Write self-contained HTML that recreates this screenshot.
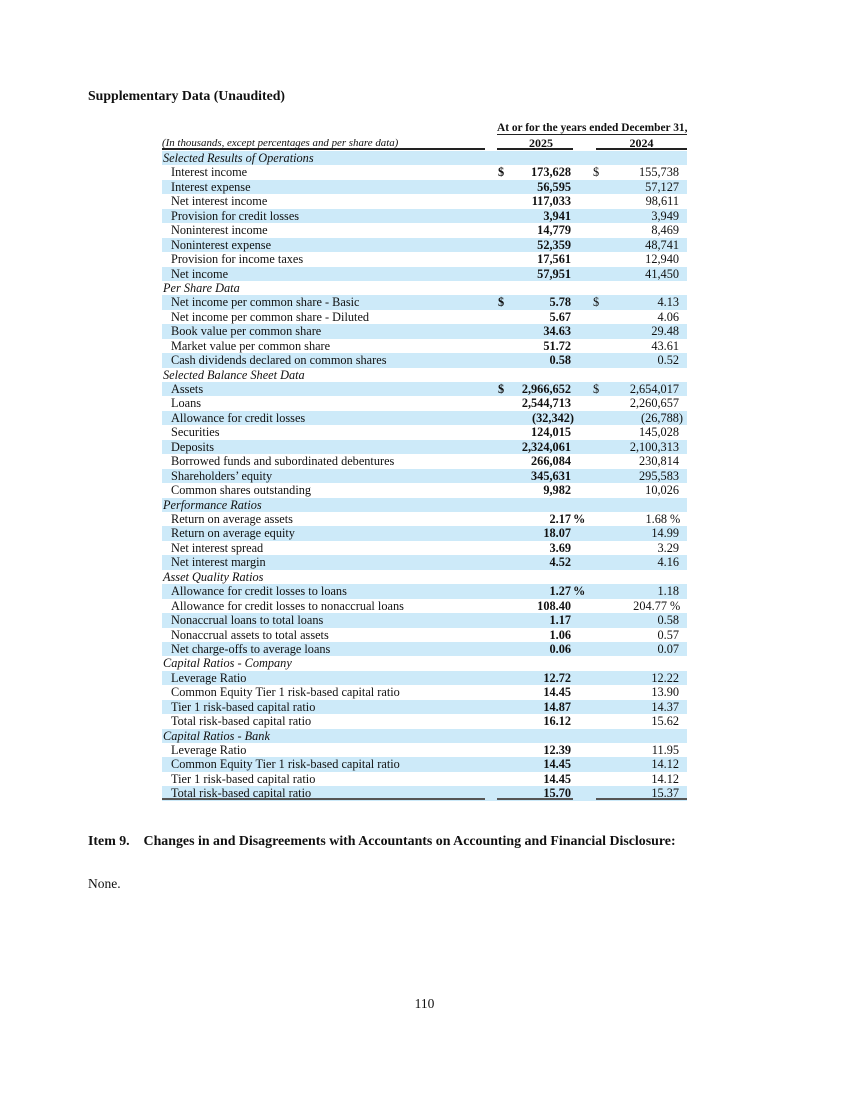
<!DOCTYPE html>
<html><head><meta charset="utf-8"><style>
body{margin:0;background:#fff;}
#page{position:relative;width:849px;height:1100px;background:#fff;font-family:"Liberation Serif",serif;color:#111;overflow:hidden;}
.t{position:absolute;white-space:nowrap;}
.row{position:absolute;left:162px;width:525px;height:14.44px;}
.row.sh{background:#cdeaf9;}
.row span{position:absolute;top:0;font-size:12.3px;line-height:14.4px;white-space:nowrap;}
.b{font-weight:bold;}
.ln{position:absolute;background:#222;}
</style></head><body>
<div id="page">
<div class="t" style="left:88px;top:88px;font-size:13.8px;font-weight:bold;">Supplementary Data (Unaudited)</div>
<div class="t" style="left:497px;top:122px;width:190px;text-align:center;font-size:11.4px;font-weight:bold;">At or for the years ended December 31,</div>
<div class="ln" style="left:497px;top:134px;width:190px;height:1px;"></div>
<div class="t" style="left:162px;top:137px;font-size:10.9px;font-style:italic;">(In thousands, except percentages and per share data)</div>
<div class="t" style="left:497px;top:136px;width:88px;text-align:center;font-size:12px;font-weight:bold;">2025</div>
<div class="t" style="left:596px;top:136px;width:91px;text-align:center;font-size:12px;font-weight:bold;">2024</div>
<div class="ln" style="left:162px;top:148px;width:323px;height:2px;"></div>
<div class="ln" style="left:497px;top:148px;width:76px;height:2px;"></div>
<div class="ln" style="left:596px;top:148px;width:91px;height:2px;"></div>
<div id="rows"></div>
<div class="ln" style="left:162px;top:798px;width:323px;height:2px;background:#555;"></div>
<div class="ln" style="left:497px;top:798px;width:76px;height:2px;background:#555;"></div>
<div class="ln" style="left:596px;top:798px;width:91px;height:2px;background:#555;"></div>
<div class="t" style="left:88px;top:834px;font-size:13.9px;font-weight:bold;">Item 9.&nbsp;&nbsp;&nbsp; Changes in and Disagreements with Accountants on Accounting and Financial Disclosure:</div>
<div class="t" style="left:88px;top:876px;font-size:13.5px;">None.</div>
<div class="t" style="left:0;width:849px;text-align:center;top:996px;font-size:13.5px;">110</div>
</div>
<script>
const labels=["Selected Results of Operations","Interest income","Interest expense","Net interest income","Provision for credit losses","Noninterest income","Noninterest expense","Provision for income taxes","Net income",
"Per Share Data","Net income per common share - Basic","Net income per common share - Diluted","Book value per common share","Market value per common share","Cash dividends declared on common shares",
"Selected Balance Sheet Data","Assets","Loans","Allowance for credit losses","Securities","Deposits","Borrowed funds and subordinated debentures","Shareholders’ equity","Common shares outstanding",
"Performance Ratios","Return on average assets","Return on average equity","Net interest spread","Net interest margin",
"Asset Quality Ratios","Allowance for credit losses to loans","Allowance for credit losses to nonaccrual loans","Nonaccrual loans to total loans","Nonaccrual assets to total assets","Net charge-offs to average loans",
"Capital Ratios - Company","Leverage Ratio","Common Equity Tier 1 risk-based capital ratio","Tier 1 risk-based capital ratio","Total risk-based capital ratio",
"Capital Ratios - Bank","Leverage Ratio","Common Equity Tier 1 risk-based capital ratio","Tier 1 risk-based capital ratio","Total risk-based capital ratio"];
const values2025=["","173,628","56,595","117,033","3,941","14,779","52,359","17,561","57,951",
"","5.78","5.67","34.63","51.72","0.58",
"","2,966,652","2,544,713","(32,342)","124,015","2,324,061","266,084","345,631","9,982",
"","2.17","18.07","3.69","4.52",
"","1.27","108.40","1.17","1.06","0.06",
"","12.72","14.45","14.87","16.12",
"","12.39","14.45","14.45","15.70"];
const values2024=["","155,738","57,127","98,611","3,949","8,469","48,741","12,940","41,450",
"","4.13","4.06","29.48","43.61","0.52",
"","2,654,017","2,260,657","(26,788)","145,028","2,100,313","230,814","295,583","10,026",
"","1.68","14.99","3.29","4.16",
"","1.18","204.77","0.58","0.57","0.07",
"","12.22","13.90","14.37","15.62",
"","11.95","14.12","14.12","15.37"];
const dollarRows=[1,10,16];
const pct2025Rows=[25,30];
const pct2024Rows=[25,31];
const container=document.getElementById('rows');
labels.forEach((lab,i)=>{
  const r=document.createElement('div');
  r.className='row'+(i%2===0?' sh':'');
  r.style.top=(151+i*14.44)+'px';
  
  
  const isHead=values2025[i]==="";
  const l=document.createElement('span');
  l.textContent=lab;
  l.style.left=isHead?'1px':'9px';
  if(isHead)l.style.fontStyle='italic';
  
  
  r.appendChild(l);
  if(!isHead){
    const v1=document.createElement('span');
    v1.className='b';
    v1.textContent=values2025[i];
    v1.style.right=(525-(571-162)-(values2025[i].startsWith('(')?3:0))+'px';
    
    
    r.appendChild(v1);
    const v2=document.createElement('span');
    v2.textContent=values2024[i];
    const p24=pct2024Rows.includes(i);
    v2.style.right=(525-((p24?667:679)-162)-(values2024[i].startsWith('(')?4:0))+'px';
    
    
    r.appendChild(v2);
    if(dollarRows.includes(i)){
      const d1=document.createElement('span');d1.className='b';d1.textContent='$';d1.style.left=(498-162)+'px';
      
      
      r.appendChild(d1);
      const d2=document.createElement('span');d2.textContent='$';d2.style.left=(593-162)+'px';
      
      
      r.appendChild(d2);
    }
    if(pct2025Rows.includes(i)){
      const p=document.createElement('span');p.className='b';p.textContent='%';p.style.left=(573-162)+'px';
      
      
      r.appendChild(p);
    }
    if(p24){
      const p=document.createElement('span');p.textContent='%';p.style.left=(670-162)+'px';
      
      
      r.appendChild(p);
    }
  }
  container.appendChild(r);
});
</script>
</body></html>
